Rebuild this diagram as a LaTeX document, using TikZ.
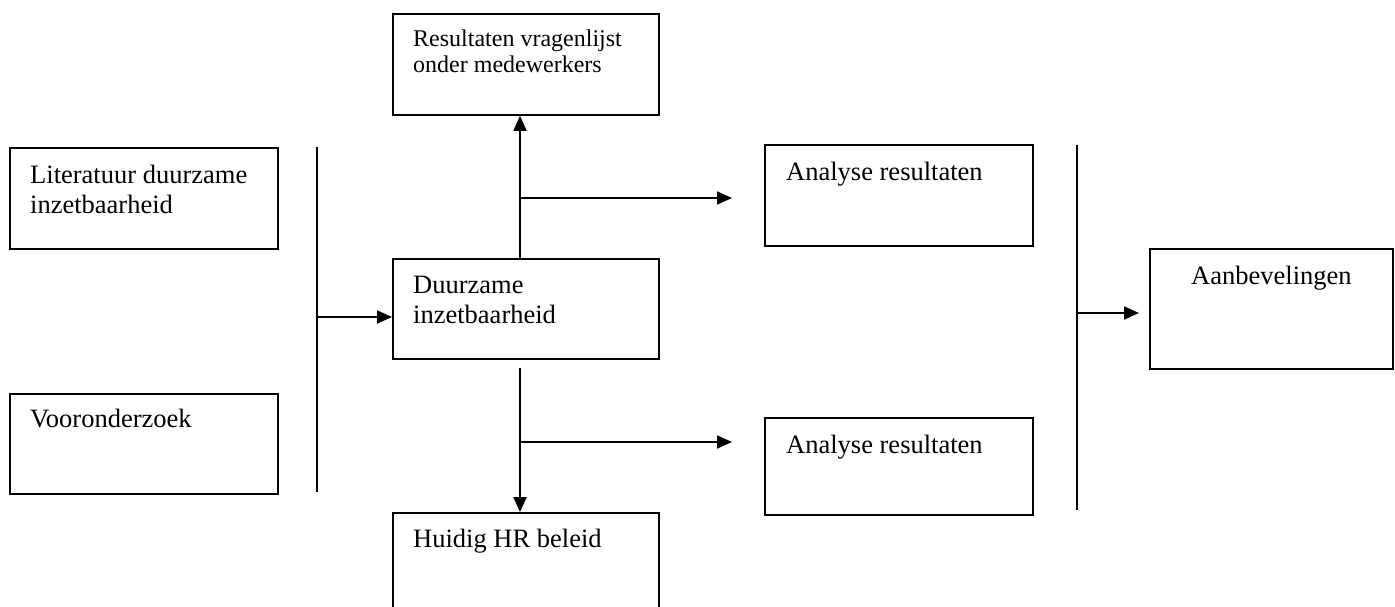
\documentclass[tikz,border=0pt]{standalone}
\usepackage{fontspec}
\setmainfont{Liberation Serif}
\usetikzlibrary{arrows.meta,calc}
\tikzset{
  box/.style={draw, line width=1.8pt, anchor=north west, inner sep=0pt},
  txt/.style={anchor=base west, inner sep=0pt, font=\fontsize{26.5}{30}\selectfont},
  smalltxt/.style={anchor=base west, inner sep=0pt, font=\fontsize{24}{26}\selectfont},
  conn/.style={line width=1.8pt},
  arr/.style={line width=1.8pt, -{Triangle[length=15pt,width=13pt]}, shorten >=0pt}
}
\begin{document}
\begin{tikzpicture}[x=1pt,y=-1pt]
\clip (0,0) rectangle (1395,607);
% boxes
\node[box, minimum width=268pt, minimum height=101pt] (lit) at (9,147) {};
\node[box, minimum width=268pt, minimum height=100pt] (voor) at (9,393) {};
\node[box, minimum width=266pt, minimum height=100pt] (duur) at (392,258) {};
\node[box, minimum width=266pt, minimum height=101pt] (res) at (392,13) {};
\node[box, minimum width=268pt, minimum height=101pt] (an1) at (764,144) {};
\node[box, minimum width=268pt, minimum height=97pt] (an2) at (764,417) {};
\node[box, minimum width=266pt, minimum height=108pt] (huid) at (392,512) {};
\node[box, minimum width=243pt, minimum height=120pt] (aanb) at (1149,248) {};
% texts
\node[txt] (litT) at ($(lit.north west)+(21,36)$) {\parbox[t]{250pt}{Literatuur duurzame\\inzetbaarheid}};
\node[txt] (voorT) at ($(voor.north west)+(21,34)$) {Vooronderzoek};
\node[txt] (duurT) at ($(duur.north west)+(21,35)$) {\parbox[t]{240pt}{Duurzame\\inzetbaarheid}};
\node[smalltxt] (resT) at ($(res.north west)+(21,34)$) {\parbox[t]{240pt}{Resultaten vragenlijst\\onder medewerkers}};
\node[txt] (an1T) at ($(an1.north west)+(22,36)$) {Analyse resultaten};
\node[txt] (an2T) at ($(an2.north west)+(22,36)$) {Analyse resultaten};
\node[txt] (huidT) at ($(huid.north west)+(21,35)$) {Huidig HR beleid};
\node[txt, anchor=base] (aanbT) at ($(aanb.north)+(0,36)$) {Aanbevelingen};
% coordinates
\coordinate (cx) at (520,0);
\coordinate (v1t) at (317,147);
\coordinate (v1b) at (317,492);
\coordinate (v1m) at (317,317);
\coordinate (b1) at (520,198);
\coordinate (t1) at (732,198);
\coordinate (s2) at (520,368);
\coordinate (b2) at (520,442);
\coordinate (t2) at (732,442);
\coordinate (v2t) at (1077,145);
\coordinate (v2b) at (1077,510);
\coordinate (v2m) at (1077,313);
\coordinate (t3) at (1139,313);
% connectors
\draw[conn] (v1t) -- (v1b);
\draw[arr] (v1m) -- (duur.west |- v1m);
\draw[arr] (duur.north -| cx) -- (res.south -| cx);
\draw[arr] (b1) -- (t1);
\draw[arr] (s2) -- (huid.north -| cx);
\draw[arr] (b2) -- (t2);
\draw[conn] (v2t) -- (v2b);
\draw[arr] (v2m) -- (t3);
\end{tikzpicture}
\end{document}
